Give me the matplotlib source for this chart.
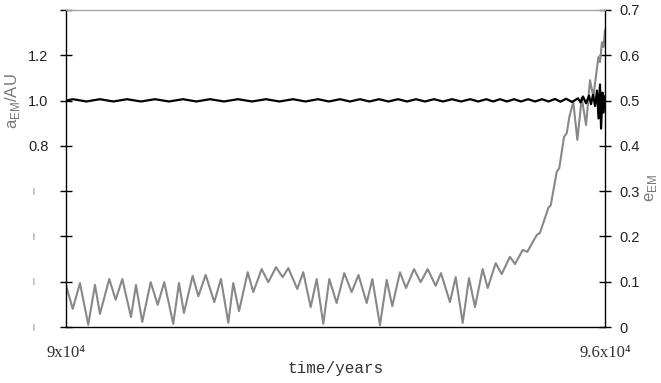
import matplotlib
matplotlib.use("Agg")
import matplotlib.pyplot as plt
import matplotlib.transforms as mtransforms

# ----------------------------
# Data
# ----------------------------
# semi-major axis a_EM (left axis, AU)
t_a = [90000, 90078, 90228, 90378, 90528, 90679, 90835, 90991, 91146, 91302,
       91452, 91603, 91759, 91915, 92070, 92226, 92376, 92527, 92666, 92805,
       92927, 93050, 93161, 93273, 93378, 93484, 93590, 93696, 93796, 93896,
       93996, 94097, 94197, 94297, 94398, 94499, 94588, 94678, 94754, 94831,
       94909, 94987, 95065, 95143, 95221, 95299, 95371, 95443, 95504, 95566,
       95633, 95700, 95728, 95755, 95789, 95822, 95844, 95867, 95889, 95911,
       95928, 95944, 95956, 95972, 95983, 96000]
a_em = [1.000, 1.006, 0.996, 1.006, 0.996, 1.006, 0.996, 1.006, 0.996, 1.006,
        0.996, 1.006, 0.996, 1.006, 0.996, 1.006, 0.996, 1.006, 0.996, 1.006,
        0.996, 1.006, 0.996, 1.006, 0.996, 1.006, 0.996, 1.006, 0.996, 1.006,
        0.996, 1.006, 0.996, 1.006, 0.996, 1.006, 0.996, 1.006, 0.996, 1.006,
        0.996, 1.006, 0.996, 1.006, 0.996, 1.006, 0.996, 1.007, 0.995, 1.008,
        0.994, 1.010, 0.992, 1.018, 0.988, 1.022, 0.984, 1.026, 0.976, 1.044,
        0.921, 1.071, 0.876, 1.035, 0.947, 1.018]

# eccentricity e_EM (right axis)
t_e = [90000, 90075, 90156, 90248, 90323, 90378, 90482, 90553, 90627, 90724,
       90779, 90849, 90943, 91021, 91094, 91194, 91258, 91313, 91410, 91473,
       91555, 91651, 91725, 91807, 91862, 91926, 92023, 92085, 92178, 92252,
       92338, 92412, 92475, 92575, 92641, 92724, 92791, 92864, 92931, 93013,
       93098, 93180, 93256, 93347, 93410, 93495, 93570, 93632, 93718, 93785,
       93874, 93948, 94026, 94115, 94174, 94274, 94338, 94416, 94486, 94553,
       94638, 94694, 94783, 94850, 94942, 94998, 95084, 95135, 95240, 95276,
       95369, 95396, 95462, 95491, 95544, 95574, 95603, 95647, 95692, 95741,
       95789, 95833, 95870, 95908, 95926, 95944, 95966, 95983, 96000]
e_em = [0.093, 0.040, 0.097, 0.005, 0.093, 0.029, 0.106, 0.060, 0.106, 0.022,
        0.093, 0.011, 0.099, 0.049, 0.099, 0.007, 0.097, 0.031, 0.113, 0.068,
        0.115, 0.055, 0.106, 0.009, 0.097, 0.035, 0.121, 0.077, 0.128, 0.099,
        0.132, 0.110, 0.130, 0.084, 0.121, 0.044, 0.106, 0.007, 0.106, 0.053,
        0.119, 0.077, 0.115, 0.053, 0.106, 0.004, 0.104, 0.046, 0.121, 0.086,
        0.128, 0.099, 0.128, 0.091, 0.119, 0.055, 0.110, 0.009, 0.108, 0.044,
        0.128, 0.086, 0.141, 0.117, 0.155, 0.139, 0.170, 0.166, 0.203, 0.208,
        0.263, 0.269, 0.342, 0.351, 0.420, 0.428, 0.464, 0.497, 0.413, 0.506,
        0.446, 0.545, 0.508, 0.568, 0.596, 0.585, 0.629, 0.618, 0.656]

x_ticks = [90000, 96000]
x_ticklabels = ["9x10\u2074", "9.6x10\u2074"]
a_ticks = [0, 0.2, 0.4, 0.6, 0.8, 1.0, 1.2, 1.4]
a_ticklabels = ["", "", "", "", "0.8", "1.0", "1.2", ""]
a_marked = [0, 0.2, 0.4, 0.6]   # ticks with only a tiny stroke as label
e_ticks = [0, 0.1, 0.2, 0.3, 0.4, 0.5, 0.6, 0.7]
e_ticklabels = ["0", "0.1", "0.2", "0.3", "0.4", "0.5", "0.6", "0.7"]

# ----------------------------
# Plot
# ----------------------------
plt.rcParams["font.family"] = ["Liberation Sans", "DejaVu Sans"]
plt.rcParams["mathtext.fontset"] = "custom"
plt.rcParams["mathtext.rm"] = "Liberation Sans"

fig = plt.figure(figsize=(6.61, 3.83), dpi=100)
ax = fig.add_axes([0.0998, 0.1462, 0.8155, 0.8277])
ax2 = ax.twinx()

# eccentricity below, semi-major axis on top
ax.set_zorder(ax2.get_zorder() + 1)
ax.patch.set_visible(False)

ax2.plot(t_e, e_em, color="#888888", lw=1.5)
ax.plot(t_a, a_em, color="black", lw=1.6)

ax.set_xlim(90000, 96000)
ax.set_ylim(0, 1.4)
ax2.set_ylim(0, 0.7)

# spines
ax.spines["right"].set_visible(False)
ax.spines["top"].set_color("#a0a0a0")
ax.spines["top"].set_linewidth(0.9)
ax.spines["left"].set_linewidth(1.0)
ax.spines["bottom"].set_linewidth(1.0)
for s in ["top", "left", "bottom"]:
    ax2.spines[s].set_visible(False)
ax2.spines["right"].set_linewidth(1.0)

# x axis
ax.set_xticks(x_ticks, labels=x_ticklabels)
ax.tick_params(axis="x", length=0, pad=13, labelsize=12, labelcolor="#333333")
for lab in ax.get_xticklabels():
    lab.set_family(["Liberation Serif", "DejaVu Serif"])
ax.set_xlabel("time/years", family=["Liberation Mono", "DejaVu Sans Mono"],
              fontsize=11.5, color="#333333")
ax.xaxis.set_label_coords(0.5, -0.108)

# left axis
ax.set_yticks(a_ticks, labels=a_ticklabels)
ax.tick_params(axis="y", direction="inout", length=9, width=1.0, pad=8,
               labelsize=10.5, labelcolor="#222222")
trans = mtransforms.blended_transform_factory(ax.transAxes, ax.transData)
for v in a_marked:
    ax.text(-0.061, v, "|", transform=trans, ha="center", va="center",
            fontsize=5, color="#555555")
ax.set_ylabel(r"a$_{\rm EM}$/AU", fontsize=12, color="#777777")
ax.yaxis.set_label_coords(-0.081, 0.712)

# right axis
ax2.set_yticks(e_ticks, labels=e_ticklabels)
ax2.tick_params(axis="y", direction="inout", length=9, width=1.0, pad=6,
                labelsize=10.5, labelcolor="#222222")
ax2.set_ylabel(r"e$_{\rm EM}$", fontsize=12, color="#777777")
ax2.yaxis.set_label_coords(1.071, 0.438)

fig.savefig("out.png", dpi=100)
